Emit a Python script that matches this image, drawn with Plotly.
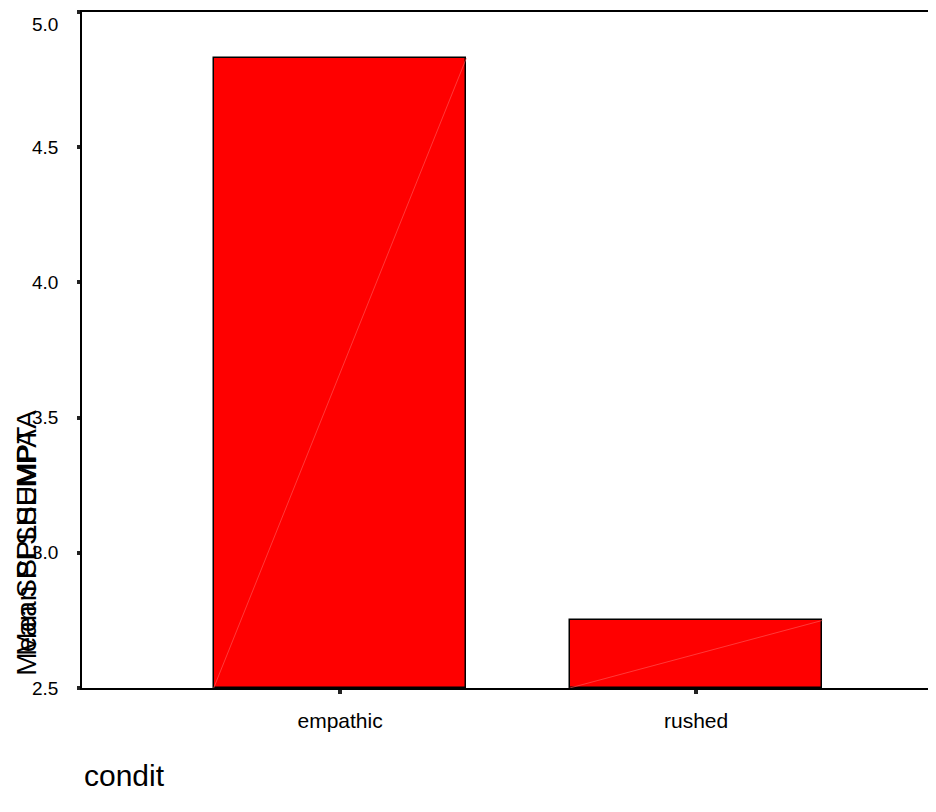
import plotly.graph_objects as go

categories = ["empathic", "rushed"]
means = [4.83, 2.75]
y_ticks = [2.5, 3.0, 3.5, 4.0, 4.5, 5.0]
y_tick_labels = ["2.5", "3.0", "3.5", "4.0", "4.5", "5.0"]
y_base = 2.5
bar_width = 0.71

positions = list(range(len(categories)))

fig = go.Figure()
fig.add_trace(go.Bar(
    x=positions, y=[m - y_base for m in means], base=y_base,
    width=bar_width,
    marker=dict(color="#ff0000", line=dict(color="#000000", width=1.5)),
    showlegend=False, hoverinfo="skip",
))
# faint diagonal rendering artefact inside each bar
for p, m in zip(positions, means):
    fig.add_trace(go.Scatter(
        x=[p - bar_width / 2, p + bar_width / 2], y=[y_base, m],
        mode="lines", line=dict(color="#ff6060", width=0.6),
        showlegend=False, hoverinfo="skip",
    ))

fig.update_layout(
    width=928, height=796,
    margin=dict(l=74, r=0, t=4, b=116, autoexpand=False),
    paper_bgcolor="white", plot_bgcolor="white",
    font=dict(family="Liberation Sans, Arial, sans-serif", size=16, color="black"),
    bargap=0,
)
fig.update_xaxes(
    range=[-0.725, 1.674], tickvals=positions, ticktext=categories,
    showgrid=False, zeroline=False, automargin=False,
    showline=True, linecolor="black", linewidth=2, mirror=True,
    ticks="outside", ticklen=4, tickwidth=4, tickcolor="#222222",
    tickfont=dict(size=21), ticklabelstandoff=9,
)
fig.update_yaxes(
    range=[2.5, 5.0], tickvals=y_ticks, showticklabels=False,
    showgrid=False, zeroline=False, automargin=False,
    showline=True, linecolor="black", linewidth=2,
    ticks="outside", ticklen=3, tickwidth=4, tickcolor="#222222",
)
# y tick labels (top one kept inside the page, as in the reference)
top_tick = max(y_ticks)
for v, t in zip(y_ticks, y_tick_labels):
    fig.add_annotation(
        text=t, xref="paper", yref="y", x=-0.026, y=v,
        xanchor="right", yanchor="top" if v == top_tick else "middle",
        showarrow=False, font=dict(size=19),
    )
fig.add_annotation(
    text="condit", xref="paper", yref="paper", x=0.0, y=-0.129,
    xanchor="left", yanchor="middle", showarrow=False, font=dict(size=30),
)
for lbl in ["Mean SPLSEMPA", "Mean SPLSHUMPTA"]:
    fig.add_annotation(
        text=lbl, xref="paper", yref="paper", x=-0.0644, y=0.215,
        xanchor="center", yanchor="middle", textangle=-90, showarrow=False,
        font=dict(size=28),
    )

fig.write_html("out.html")
